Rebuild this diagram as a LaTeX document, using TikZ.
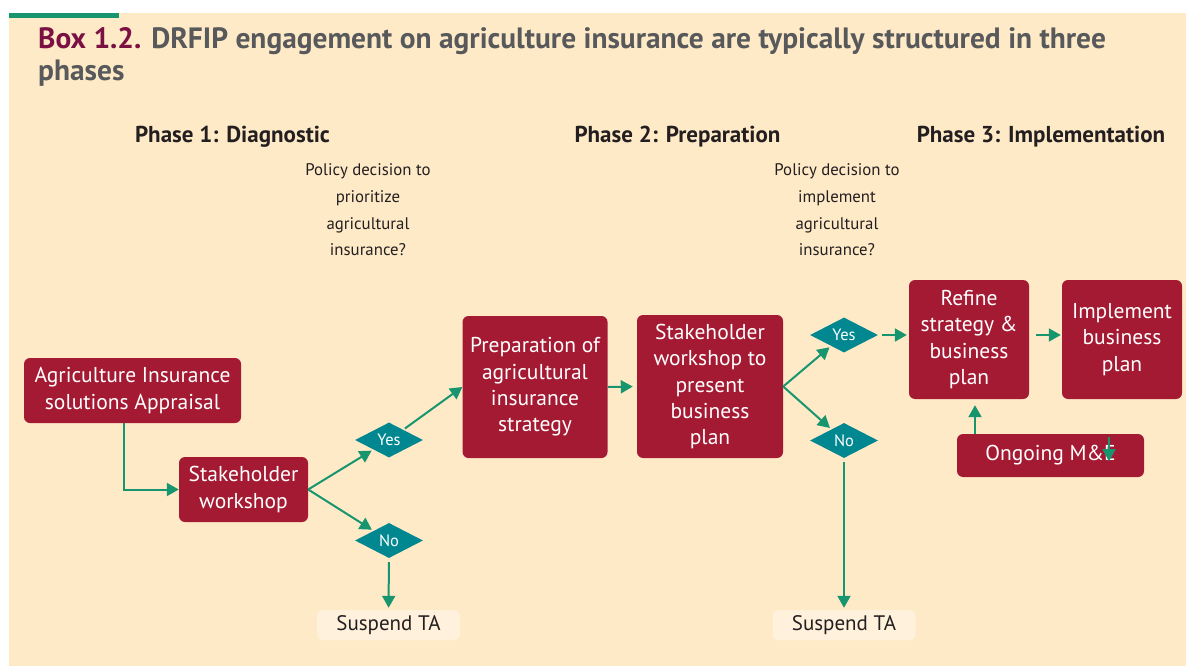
\documentclass[tikz,border=0pt]{standalone}
\usepackage{fontspec}
\setmainfont{PT Sans}
\usetikzlibrary{shapes.geometric,arrows.meta,calc}
\definecolor{boxred}{HTML}{A51A33}
\definecolor{decteal}{HTML}{00878F}
\definecolor{arrgreen}{HTML}{17956F}
\definecolor{paper}{HTML}{FFEAC8}
\definecolor{paperlight}{HTML}{FFF1DB}
\definecolor{titlegray}{HTML}{58595B}
\definecolor{boxlabel}{HTML}{7B1142}
\definecolor{ink}{HTML}{231F20}

\begin{document}
\begin{tikzpicture}[x=1pt,y=-1pt,
    task/.style={fill=boxred, text=white, rounded corners=6pt, align=center, inner sep=0pt,
      font=\fontsize{21.5}{26.3}\selectfont},
    decision/.style={diamond, fill=decteal, text=white, inner sep=0pt, aspect=1.9,
      minimum width=68pt, minimum height=35pt, font=\fontsize{16.5}{18}\selectfont},
    flow/.style={draw=arrgreen, line width=2pt, -{Triangle[width=13pt,length=12pt]}},
    question/.style={align=center, text=ink, font=\fontsize{16.8}{26.7}\selectfont},
    phase/.style={text=ink, font=\bfseries\fontsize{23}{26}\selectfont},
    suspend/.style={fill=paperlight, rounded corners=6pt, text=ink, minimum width=143pt,
      minimum height=30pt, font=\fontsize{21}{24}\selectfont}]
        \useasboundingbox (0,0) rectangle (1186,666);
        \fill[paper] (9,13) rectangle (1186,666);
        \fill[arrgreen] (9,13) rectangle (119,18);
        % title and phase headings
        \node[anchor=north west, align=left, inner sep=0pt, text=titlegray,
          font=\bfseries\fontsize{29.4}{31.5}\selectfont] (title) at (38,27.5)
          {\textcolor{boxlabel}{Box 1.2.} DRFIP engagement on agriculture insurance are typically structured in three\\phases};
        \node[phase] (phaseA) at (232.5,137) {Phase 1: Diagnostic};
        \node[phase] (phaseB) at (677.5,137) {Phase 2: Preparation};
        \node[phase] (phaseC) at (1041,137) {Phase 3: Implementation};
        \node[question] (askA) at (368,210) {Policy decision to\\prioritize\\agricultural\\insurance?};
        \node[question] (askB) at (837,210) {Policy decision to\\implement\\agricultural\\insurance?};
        % phase 1
        \node[task, minimum width=217pt, minimum height=65pt] (appraisal) at (132.5,390.5) {Agriculture Insurance\\solutions Appraisal};
        \node[task, minimum width=129pt, minimum height=65pt] (workshop) at (243.5,489.5) {Stakeholder\\workshop};
        \node[decision] (yesA) at (389,440) {Yes};
        \node[decision] (noA) at (389,540.5) {No};
        \node[suspend] (suspendA) at (388.5,625) {Suspend TA};
        % phase 2
        \node[task, minimum width=145pt, minimum height=142pt] (strategy) at (535,387) {Preparation of\\agricultural\\insurance\\strategy};
        \node[task, minimum width=146pt, minimum height=143pt] (present) at (710,386.5) {Stakeholder\\workshop to\\present\\business\\plan};
        \node[decision] (yesB) at (844,335) {Yes};
        \node[decision] (noB) at (844,440.5) {No};
        \node[suspend] (suspendB) at (844,625) {Suspend TA};
        % phase 3
        \node[task, minimum width=120pt, minimum height=119pt] (refine) at (969,339.5) {Refine\\strategy \&\\business\\plan};
        \node[task, minimum width=120pt, minimum height=119pt] (implement) at (1122,339.5) {Implement\\business\\plan};
        \node[task, minimum width=187pt, minimum height=43pt] (monitor) at (1050.5,455.5) {Ongoing M\&E};
        % connectors
        \draw[flow] ([xshift=-9pt]appraisal.south) |- (workshop.west);
        \draw[flow, shorten >=2pt] (workshop.east) -- (yesA);
        \draw[flow, shorten >=2pt] (workshop.east) -- (noA);
        \draw[flow, shorten <=2pt] (yesA) -- (strategy.west);
        \draw[flow, shorten <=4pt, shorten >=2pt] (noA) -- (suspendA);
        \draw[flow, shorten >=4pt] (strategy.east) -- (present.west);
        \draw[flow, shorten >=2pt] (present.east) -- (yesB);
        \draw[flow, shorten >=2pt] (present.east) -- (noB);
        \draw[flow, shorten <=4pt, shorten >=2pt] (noB) -- (suspendB);
        \draw[flow, shorten <=4pt, shorten >=2pt] (yesB.east) -- (yesB.east -| refine.west);
        \draw[flow, shorten <=7pt, shorten >=1pt] (refine.east |- yesB) -- (implement.west |- yesB);
        \draw[flow, shorten >=6pt] ([xshift=6pt]refine.south |- monitor.north) -- ([xshift=6pt]refine.south);
        \draw[flow] ($(implement.south)+(-13,38)$) -- ($(implement.south)+(-13,62)$);
      \end{tikzpicture}
\end{document}
